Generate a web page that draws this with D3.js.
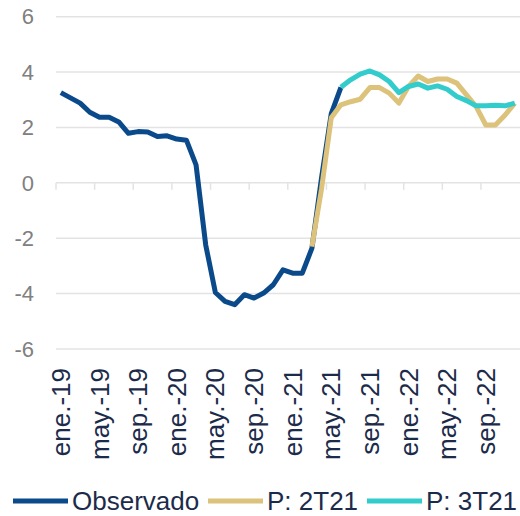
<html lang="es">
<head>
<meta charset="UTF-8"/>
<title>Observado vs proyecciones</title>
<script src="https://d3js.org/d3.v7.min.js"></script>
<style>
    body { margin: 0; background: #fff; }
    text { font-family: "Liberation Sans", Arial, sans-serif; }
</style>
</head>
<body>
<script>
    // categories: monthly, ene-19 .. dic-22
    var monthNames = ["ene.", "feb.", "mar.", "abr.", "may.", "jun.", "jul.", "ago.", "sep.", "oct.", "nov.", "dic."];
    var years = ["19", "20", "21", "22"];
    var categories = [];
    years.forEach(function (yy) {
        monthNames.forEach(function (m) { categories.push(m + "-" + yy); });
    });
    var tickLabels = ["ene.-19", "may.-19", "sep.-19", "ene.-20", "may.-20", "sep.-20",
                      "ene.-21", "may.-21", "sep.-21", "ene.-22", "may.-22", "sep.-22"];
    var yTicks = [-6, -4, -2, 0, 2, 4, 6];

    // Observado: ene-19 .. jun-21
    var observado = [3.26, 3.07, 2.88, 2.55, 2.37, 2.37, 2.2, 1.79, 1.85, 1.84, 1.67, 1.7,
                     1.58, 1.54, 0.65, -2.24, -3.96, -4.28, -4.4, -4.04, -4.16, -3.98, -3.68, -3.14,
                     -3.26, -3.26, -2.36, 0.2, 2.5, 3.45];
    // P: 2T21: mar-21 .. dic-22
    var p2t21Start = "mar.-21";
    var p2t21 = [-2.3, -0.2, 2.35, 2.82, 2.93, 3.02, 3.44, 3.44, 3.24, 2.88,
                 3.48, 3.86, 3.66, 3.75, 3.75, 3.6, 3.18, 2.75, 2.09, 2.09, 2.45, 2.88];
    // P: 3T21: jun-21 .. dic-22
    var p3t21Start = "jun.-21";
    var p3t21 = [3.45, 3.72, 3.93, 4.04, 3.9, 3.66, 3.26,
                 3.48, 3.57, 3.42, 3.5, 3.38, 3.12, 2.97, 2.78, 2.78, 2.8, 2.78, 2.88];

    var seriesNames = ["Observado", "P: 2T21", "P: 3T21"];
    var colors = ["#0b4a8a", "#dcc27a", "#33cccc"];

    var w = 520, h = 516;
    var plotLeft = 56, plotRight = 519.6, plotTop = 16.7, plotBottom = 349;

    var svg = d3.select("body").append("svg")
        .attr("width", w)
        .attr("height", h);

    var xScale = d3.scaleBand()
        .domain(categories)
        .range([plotLeft, plotRight]);

    var yScale = d3.scaleLinear()
        .domain([-6, 6])
        .range([plotBottom, plotTop]);

    // gridlines
    svg.append("g")
        .selectAll("line")
        .data(yTicks)
        .enter()
        .append("line")
        .attr("x1", plotLeft)
        .attr("x2", w)
        .attr("y1", function (d) { return yScale(d); })
        .attr("y2", function (d) { return yScale(d); })
        .attr("stroke", "#e3e3e3")
        .attr("stroke-width", 1.5);

    // y labels
    svg.append("g")
        .selectAll("text")
        .data(yTicks)
        .enter()
        .append("text")
        .attr("x", 34)
        .attr("y", function (d) { return yScale(d); })
        .attr("dy", "0.35em")
        .attr("text-anchor", "end")
        .attr("fill", "#808080")
        .attr("font-size", 22)
        .text(function (d) { return d; });

    // tick marks on the zero line, every 4 months at band edges
    var tickCats = categories.filter(function (d, i) { return i % 4 === 0; });
    svg.append("g")
        .selectAll("line")
        .data(tickCats)
        .enter()
        .append("line")
        .attr("x1", function (d) { return xScale(d); })
        .attr("x2", function (d) { return xScale(d); })
        .attr("y1", yScale(0))
        .attr("y2", yScale(0) + 7)
        .attr("stroke", "#e3e3e3")
        .attr("stroke-width", 1.5);

    // x labels
    svg.append("g")
        .selectAll("text")
        .data(tickLabels)
        .enter()
        .append("text")
        .attr("transform", function (d) {
            return "translate(" + (xScale(d) + xScale.bandwidth() / 2) + ",368) rotate(-90)";
        })
        .attr("dy", "0.35em")
        .attr("text-anchor", "end")
        .attr("fill", "#1c2b4a")
        .attr("font-size", 26)
        .text(function (d) { return d; });

    var line = d3.line()
        .x(function (d) { return xScale(d.c) + xScale.bandwidth() / 2; })
        .y(function (d) { return yScale(d.v); });

    function pts(values, start) {
        var s = categories.indexOf(start);
        return values.map(function (v, i) { return { c: categories[s + i], v: v }; });
    }

    var series = [pts(observado, "ene.-19"), pts(p2t21, p2t21Start), pts(p3t21, p3t21Start)];

    svg.append("g")
        .selectAll("path")
        .data(series)
        .enter()
        .append("path")
        .attr("d", line)
        .attr("fill", "none")
        .attr("stroke", function (d, i) { return colors[i]; })
        .attr("stroke-width", 5)
        .attr("stroke-linejoin", "round");

    // legend
    var legendX = [13, 208, 367];
    var lg = svg.append("g")
        .selectAll("g")
        .data(seriesNames)
        .enter()
        .append("g")
        .attr("transform", function (d, i) { return "translate(" + legendX[i] + ",501)"; });

    lg.append("line")
        .attr("x1", 0)
        .attr("x2", 55)
        .attr("stroke", function (d, i) { return colors[i]; })
        .attr("stroke-width", 5);

    lg.append("text")
        .attr("x", 59)
        .attr("dy", "0.35em")
        .attr("fill", "#1c2b4a")
        .attr("font-size", 26)
        .text(function (d) { return d; });
</script>
</body>
</html>
